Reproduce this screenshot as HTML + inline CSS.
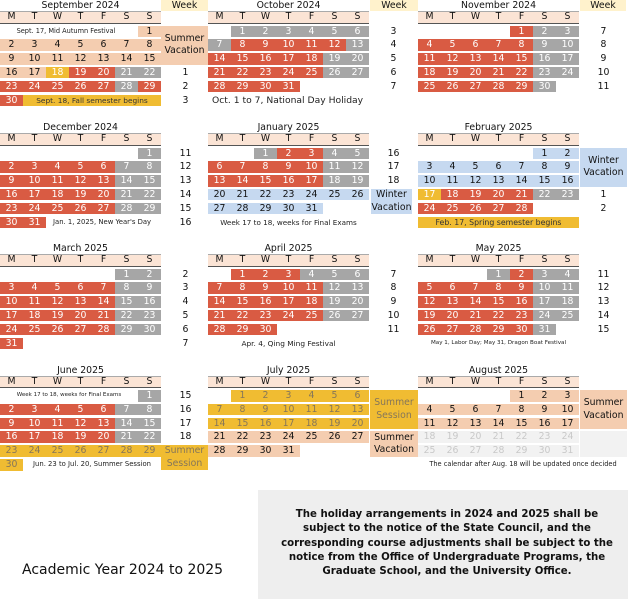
<!DOCTYPE html>
<html><head><meta charset="utf-8"><style>
*{box-sizing:content-box}
body{margin:0;width:628px;height:599px;position:relative;background:#fff;font-family:"DejaVu Sans",Verdana,sans-serif;overflow:hidden;color:#111}
.m{position:absolute;width:210px;height:112px}
.t{position:absolute;left:0;top:0;width:161px;height:11px;line-height:11px;text-align:center;font-size:9.3px;white-space:nowrap}
.h{position:absolute;left:0;top:11px;width:161px;height:10.5px;background:#fbe4d5;border-top:1px solid #aaa;border-bottom:1px solid #555;display:flex;font-size:9.3px;line-height:10.5px}
.h span{width:23px;text-align:center}
.r{position:absolute;left:0;width:161px;height:11.5px;display:flex;font-size:9.3px;line-height:11.5px;white-space:nowrap}
.r span{width:23px;flex:none;text-align:center;height:11.5px;overflow:visible}
.r1{top:25.5px}.r2{top:39.3px}.r3{top:53.1px}.r4{top:66.9px}.r5{top:80.7px}.r6{top:94.5px}
.R{background:#d95b43;color:#fff}
.G{background:#a6a6a6;color:#fff}
.Y{background:#f0bc32;color:#fff}
.Q{background:#f0bc32;color:#85765a}
.B{background:#c6d9f0;color:#111}
.P{background:#f4cdb0;color:#111}
.F{background:#f2f2f2;color:#c8c8c8}
.w{position:absolute;left:162px;width:47px;text-align:center;font-size:9.3px;height:11.5px;line-height:11.5px}
.wb{position:absolute;left:162px;width:47px;display:flex;align-items:center;justify-content:center;text-align:center;font-size:9.3px;line-height:12.5px}
.wh{position:absolute;left:161px;top:0;width:47px;height:11px;line-height:11px;background:#fff2cc;text-align:center;font-size:9.3px}
.n{color:#222}
</style></head><body>

<!-- September 2024 -->
<div class="m" style="left:0;top:0">
<div class="t">September 2024</div>
<div class="wh">Week</div>
<div class="h"><span>M</span><span>T</span><span>W</span><span>T</span><span>F</span><span>S</span><span>S</span></div>
<div class="r r1"><span class="n" style="width:132px;font-size:6.6px;text-align:center;padding-left:0">Sept. 17, Mid Autumn Festival</span><span style="width:6px"></span><span class="P">1</span></div>
<div class="r r2"><span class="P">2</span><span class="P">3</span><span class="P">4</span><span class="P">5</span><span class="P">6</span><span class="P">7</span><span class="P">8</span></div>
<div class="r r3"><span class="P">9</span><span class="P">10</span><span class="P">11</span><span class="P">12</span><span class="P">13</span><span class="P">14</span><span class="P">15</span></div>
<div class="r r4"><span class="P">16</span><span class="P">17</span><span class="Y">18</span><span class="R">19</span><span class="R">20</span><span class="G">21</span><span class="G">22</span></div>
<div class="r r5"><span class="R">23</span><span class="R">24</span><span class="R">25</span><span class="R">26</span><span class="R">27</span><span class="G">28</span><span class="R">29</span></div>
<div class="r r6"><span class="R">30</span><span class="Y" style="width:138px;color:#333;font-size:7.4px">Sept. 18, Fall semester begins</span></div>
<div class="wb P" style="left:161px;top:25.5px;height:39.1px">Summer<br>Vacation</div>
<div class="w r4">1</div><div class="w r5">2</div><div class="w r6">3</div>
</div>

<!-- October 2024 -->
<div class="m" style="left:208px;top:0">
<div class="t">October 2024</div>
<div class="wh" style="left:162px;width:48px">Week</div>
<div class="h"><span>M</span><span>T</span><span>W</span><span>T</span><span>F</span><span>S</span><span>S</span></div>
<div class="r r1"><span></span><span class="G">1</span><span class="G">2</span><span class="G">3</span><span class="G">4</span><span class="G">5</span><span class="G">6</span></div>
<div class="r r2"><span class="G">7</span><span class="R">8</span><span class="R">9</span><span class="R">10</span><span class="R">11</span><span class="R">12</span><span class="G">13</span></div>
<div class="r r3"><span class="R">14</span><span class="R">15</span><span class="R">16</span><span class="R">17</span><span class="R">18</span><span class="G">19</span><span class="G">20</span></div>
<div class="r r4"><span class="R">21</span><span class="R">22</span><span class="R">23</span><span class="R">24</span><span class="R">25</span><span class="G">26</span><span class="G">27</span></div>
<div class="r r5"><span class="R">28</span><span class="R">29</span><span class="R">30</span><span class="R">31</span><span></span><span></span><span></span></div>
<div class="r r6"><span class="n" style="width:160px;text-align:left;padding-left:4px;font-size:9.2px">Oct. 1 to 7, National Day Holiday</span></div>
<div class="w r1">3</div><div class="w r2">4</div><div class="w r3">5</div><div class="w r4">6</div><div class="w r5">7</div>
</div>

<!-- November 2024 -->
<div class="m" style="left:418px;top:0">
<div class="t">November 2024</div>
<div class="wh" style="left:162px;width:46px">Week</div>
<div class="h"><span>M</span><span>T</span><span>W</span><span>T</span><span>F</span><span>S</span><span>S</span></div>
<div class="r r1"><span></span><span></span><span></span><span></span><span class="R">1</span><span class="G">2</span><span class="G">3</span></div>
<div class="r r2"><span class="R">4</span><span class="R">5</span><span class="R">6</span><span class="R">7</span><span class="R">8</span><span class="G">9</span><span class="G">10</span></div>
<div class="r r3"><span class="R">11</span><span class="R">12</span><span class="R">13</span><span class="R">14</span><span class="R">15</span><span class="G">16</span><span class="G">17</span></div>
<div class="r r4"><span class="R">18</span><span class="R">19</span><span class="R">20</span><span class="R">21</span><span class="R">22</span><span class="G">23</span><span class="G">24</span></div>
<div class="r r5"><span class="R">25</span><span class="R">26</span><span class="R">27</span><span class="R">28</span><span class="R">29</span><span class="G">30</span><span></span></div>
<div class="w r1">7</div><div class="w r2">8</div><div class="w r3">9</div><div class="w r4">10</div><div class="w r5">11</div>
</div>

<!-- December 2024 -->
<div class="m" style="left:0;top:122px">
<div class="t">December 2024</div>
<div class="h"><span>M</span><span>T</span><span>W</span><span>T</span><span>F</span><span>S</span><span>S</span></div>
<div class="r r1"><span></span><span></span><span></span><span></span><span></span><span></span><span class="G">1</span></div>
<div class="r r2"><span class="R">2</span><span class="R">3</span><span class="R">4</span><span class="R">5</span><span class="R">6</span><span class="G">7</span><span class="G">8</span></div>
<div class="r r3"><span class="R">9</span><span class="R">10</span><span class="R">11</span><span class="R">12</span><span class="R">13</span><span class="G">14</span><span class="G">15</span></div>
<div class="r r4"><span class="R">16</span><span class="R">17</span><span class="R">18</span><span class="R">19</span><span class="R">20</span><span class="G">21</span><span class="G">22</span></div>
<div class="r r5"><span class="R">23</span><span class="R">24</span><span class="R">25</span><span class="R">26</span><span class="R">27</span><span class="G">28</span><span class="G">29</span></div>
<div class="r r6"><span class="R">30</span><span class="R">31</span><span class="n" style="width:108px;text-align:left;padding-left:7px;font-size:6.85px">Jan. 1, 2025, New Year's Day</span></div>
<div class="w r1">11</div><div class="w r2">12</div><div class="w r3">13</div><div class="w r4">14</div><div class="w r5">15</div><div class="w r6">16</div>
</div>

<!-- January 2025 -->
<div class="m" style="left:208px;top:122px">
<div class="t">January 2025</div>
<div class="h"><span>M</span><span>T</span><span>W</span><span>T</span><span>F</span><span>S</span><span>S</span></div>
<div class="r r1"><span></span><span></span><span class="G">1</span><span class="R">2</span><span class="R">3</span><span class="G">4</span><span class="G">5</span></div>
<div class="r r2"><span class="R">6</span><span class="R">7</span><span class="R">8</span><span class="R">9</span><span class="R">10</span><span class="G">11</span><span class="G">12</span></div>
<div class="r r3"><span class="R">13</span><span class="R">14</span><span class="R">15</span><span class="R">16</span><span class="R">17</span><span class="G">18</span><span class="G">19</span></div>
<div class="r r4"><span class="B">20</span><span class="B">21</span><span class="B">22</span><span class="B">23</span><span class="B">24</span><span class="B">25</span><span class="B">26</span></div>
<div class="r r5"><span class="B">27</span><span class="B">28</span><span class="B">29</span><span class="B">30</span><span class="B">31</span><span></span><span></span></div>
<div class="r r6"><span class="n" style="width:161px;font-size:7.2px">Week 17 to 18, weeks for Final Exams</span></div>
<div class="w r1">16</div><div class="w r2">17</div><div class="w r3">18</div>
<div class="wb B" style="left:163px;width:41px;top:66.9px;height:25.3px">Winter<br>Vacation</div>
</div>

<!-- February 2025 -->
<div class="m" style="left:418px;top:122px">
<div class="t">February 2025</div>
<div class="h"><span>M</span><span>T</span><span>W</span><span>T</span><span>F</span><span>S</span><span>S</span></div>
<div class="r r1"><span></span><span></span><span></span><span></span><span></span><span class="B">1</span><span class="B">2</span></div>
<div class="r r2"><span class="B">3</span><span class="B">4</span><span class="B">5</span><span class="B">6</span><span class="B">7</span><span class="B">8</span><span class="B">9</span></div>
<div class="r r3"><span class="B">10</span><span class="B">11</span><span class="B">12</span><span class="B">13</span><span class="B">14</span><span class="B">15</span><span class="B">16</span></div>
<div class="r r4"><span class="Y">17</span><span class="R">18</span><span class="R">19</span><span class="R">20</span><span class="R">21</span><span class="G">22</span><span class="G">23</span></div>
<div class="r r5"><span class="R">24</span><span class="R">25</span><span class="R">26</span><span class="R">27</span><span class="R">28</span><span></span><span></span></div>
<div class="r r6"><span class="Y" style="width:161px;color:#333;font-size:7.8px">Feb. 17, Spring semester begins</span></div>
<div class="wb B" style="top:25.5px;height:39.1px">Winter<br>Vacation</div>
<div class="w r4">1</div><div class="w r5">2</div>
</div>

<!-- March 2025 -->
<div class="m" style="left:0;top:243px">
<div class="t">March 2025</div>
<div class="h"><span>M</span><span>T</span><span>W</span><span>T</span><span>F</span><span>S</span><span>S</span></div>
<div class="r r1"><span></span><span></span><span></span><span></span><span></span><span class="G">1</span><span class="G">2</span></div>
<div class="r r2"><span class="R">3</span><span class="R">4</span><span class="R">5</span><span class="R">6</span><span class="R">7</span><span class="G">8</span><span class="G">9</span></div>
<div class="r r3"><span class="R">10</span><span class="R">11</span><span class="R">12</span><span class="R">13</span><span class="R">14</span><span class="G">15</span><span class="G">16</span></div>
<div class="r r4"><span class="R">17</span><span class="R">18</span><span class="R">19</span><span class="R">20</span><span class="R">21</span><span class="G">22</span><span class="G">23</span></div>
<div class="r r5"><span class="R">24</span><span class="R">25</span><span class="R">26</span><span class="R">27</span><span class="R">28</span><span class="G">29</span><span class="G">30</span></div>
<div class="r r6"><span class="R">31</span></div>
<div class="w r1">2</div><div class="w r2">3</div><div class="w r3">4</div><div class="w r4">5</div><div class="w r5">6</div><div class="w r6">7</div>
</div>

<!-- April 2025 -->
<div class="m" style="left:208px;top:243px">
<div class="t">April 2025</div>
<div class="h"><span>M</span><span>T</span><span>W</span><span>T</span><span>F</span><span>S</span><span>S</span></div>
<div class="r r1"><span></span><span class="R">1</span><span class="R">2</span><span class="R">3</span><span class="G">4</span><span class="G">5</span><span class="G">6</span></div>
<div class="r r2"><span class="R">7</span><span class="R">8</span><span class="R">9</span><span class="R">10</span><span class="R">11</span><span class="G">12</span><span class="G">13</span></div>
<div class="r r3"><span class="R">14</span><span class="R">15</span><span class="R">16</span><span class="R">17</span><span class="R">18</span><span class="G">19</span><span class="G">20</span></div>
<div class="r r4"><span class="R">21</span><span class="R">22</span><span class="R">23</span><span class="R">24</span><span class="R">25</span><span class="G">26</span><span class="G">27</span></div>
<div class="r r5"><span class="R">28</span><span class="R">29</span><span class="R">30</span></div>
<div class="r r6"><span class="n" style="width:161px;font-size:7.4px">Apr. 4, Qing Ming Festival</span></div>
<div class="w r1">7</div><div class="w r2">8</div><div class="w r3">9</div><div class="w r4">10</div><div class="w r5">11</div>
</div>

<!-- May 2025 -->
<div class="m" style="left:418px;top:243px">
<div class="t">May 2025</div>
<div class="h"><span>M</span><span>T</span><span>W</span><span>T</span><span>F</span><span>S</span><span>S</span></div>
<div class="r r1"><span></span><span></span><span></span><span class="G">1</span><span class="R">2</span><span class="G">3</span><span class="G">4</span></div>
<div class="r r2"><span class="R">5</span><span class="R">6</span><span class="R">7</span><span class="R">8</span><span class="R">9</span><span class="G">10</span><span class="G">11</span></div>
<div class="r r3"><span class="R">12</span><span class="R">13</span><span class="R">14</span><span class="R">15</span><span class="R">16</span><span class="G">17</span><span class="G">18</span></div>
<div class="r r4"><span class="R">19</span><span class="R">20</span><span class="R">21</span><span class="R">22</span><span class="R">23</span><span class="G">24</span><span class="G">25</span></div>
<div class="r r5"><span class="R">26</span><span class="R">27</span><span class="R">28</span><span class="R">29</span><span class="R">30</span><span class="G">31</span><span></span></div>
<div class="r r6"><span class="n" style="width:161px;font-size:5.6px">May 1, Labor Day; May 31, Dragon Boat Festival</span></div>
<div class="w r1">11</div><div class="w r2">12</div><div class="w r3">13</div><div class="w r4">14</div><div class="w r5">15</div>
</div>

<!-- June 2025 -->
<div class="m" style="left:0;top:364.5px">
<div class="t">June 2025</div>
<div class="h"><span>M</span><span>T</span><span>W</span><span>T</span><span>F</span><span>S</span><span>S</span></div>
<div class="r r1"><span class="n" style="width:138px;font-size:5.5px">Week 17 to 18, weeks for Final Exams</span><span class="G">1</span></div>
<div class="r r2"><span class="R">2</span><span class="R">3</span><span class="R">4</span><span class="R">5</span><span class="R">6</span><span class="G">7</span><span class="G">8</span></div>
<div class="r r3"><span class="R">9</span><span class="R">10</span><span class="R">11</span><span class="R">12</span><span class="R">13</span><span class="G">14</span><span class="G">15</span></div>
<div class="r r4"><span class="R">16</span><span class="R">17</span><span class="R">18</span><span class="R">19</span><span class="R">20</span><span class="G">21</span><span class="G">22</span></div>
<div class="r r5"><span class="Q">23</span><span class="Q">24</span><span class="Q">25</span><span class="Q">26</span><span class="Q">27</span><span class="Q">28</span><span class="Q">29</span></div>
<div class="r r6"><span class="Q">30</span><span class="n" style="width:138px;font-size:6.85px">Jun. 23 to Jul. 20, Summer Session</span></div>
<div class="w r1">15</div><div class="w r2">16</div><div class="w r3">17</div><div class="w r4">18</div>
<div class="wb Q" style="left:161px;top:80.7px;height:25.3px">Summer<br>Session</div>
</div>

<!-- July 2025 -->
<div class="m" style="left:208px;top:364.5px">
<div class="t">July 2025</div>
<div class="h"><span>M</span><span>T</span><span>W</span><span>T</span><span>F</span><span>S</span><span>S</span></div>
<div class="r r1"><span></span><span class="Q">1</span><span class="Q">2</span><span class="Q">3</span><span class="Q">4</span><span class="Q">5</span><span class="Q">6</span></div>
<div class="r r2"><span class="Q">7</span><span class="Q">8</span><span class="Q">9</span><span class="Q">10</span><span class="Q">11</span><span class="Q">12</span><span class="Q">13</span></div>
<div class="r r3"><span class="Q">14</span><span class="Q">15</span><span class="Q">16</span><span class="Q">17</span><span class="Q">18</span><span class="Q">19</span><span class="Q">20</span></div>
<div class="r r4"><span class="P">21</span><span class="P">22</span><span class="P">23</span><span class="P">24</span><span class="P">25</span><span class="P">26</span><span class="P">27</span></div>
<div class="r r5"><span class="P">28</span><span class="P">29</span><span class="P">30</span><span class="P">31</span><span></span><span></span><span></span></div>
<div class="wb Q" style="top:25.5px;height:39.1px;width:48px">Summer<br>Session</div>
<div class="wb P" style="top:66.9px;height:25.3px;width:48px">Summer<br>Vacation</div>
</div>

<!-- August 2025 -->
<div class="m" style="left:418px;top:364.5px">
<div class="t">August 2025</div>
<div class="h"><span>M</span><span>T</span><span>W</span><span>T</span><span>F</span><span>S</span><span>S</span></div>
<div class="r r1"><span></span><span></span><span></span><span></span><span class="P">1</span><span class="P">2</span><span class="P">3</span></div>
<div class="r r2"><span class="P">4</span><span class="P">5</span><span class="P">6</span><span class="P">7</span><span class="P">8</span><span class="P">9</span><span class="P">10</span></div>
<div class="r r3"><span class="P">11</span><span class="P">12</span><span class="P">13</span><span class="P">14</span><span class="P">15</span><span class="P">16</span><span class="P">17</span></div>
<div class="r r4"><span class="F">18</span><span class="F">19</span><span class="F">20</span><span class="F">21</span><span class="F">22</span><span class="F">23</span><span class="F">24</span></div>
<div class="r r5"><span class="F">25</span><span class="F">26</span><span class="F">27</span><span class="F">28</span><span class="F">29</span><span class="F">30</span><span class="F">31</span></div>
<div class="r r6" style="width:210px"><span class="n" style="width:210px;font-size:6.6px">The calendar after Aug. 18 will be updated once decided</span></div>
<div class="wb P" style="top:25.5px;height:39.1px">Summer<br>Vacation</div>
<div class="wb F" style="top:66.9px;height:25.3px"></div>
</div>

<!-- Notice box -->
<div style="position:absolute;left:258px;top:490px;width:370px;height:109px;background:#eeeeee"></div>
<div style="position:absolute;left:266px;top:508px;width:362px;text-align:center;font-weight:bold;font-size:10.2px;line-height:14.3px;color:#111;white-space:nowrap">The holiday arrangements in 2024 and 2025 shall be<br>subject to the notice of the State Council, and the<br>corresponding course adjustments shall be subject to the<br>notice from the Office of Undergraduate Programs, the<br>Graduate School, and the University Office.</div>

<div style="position:absolute;left:22px;top:561px;font-size:14px;line-height:18px;white-space:nowrap;color:#111">Academic Year 2024 to 2025</div>

</body></html>
